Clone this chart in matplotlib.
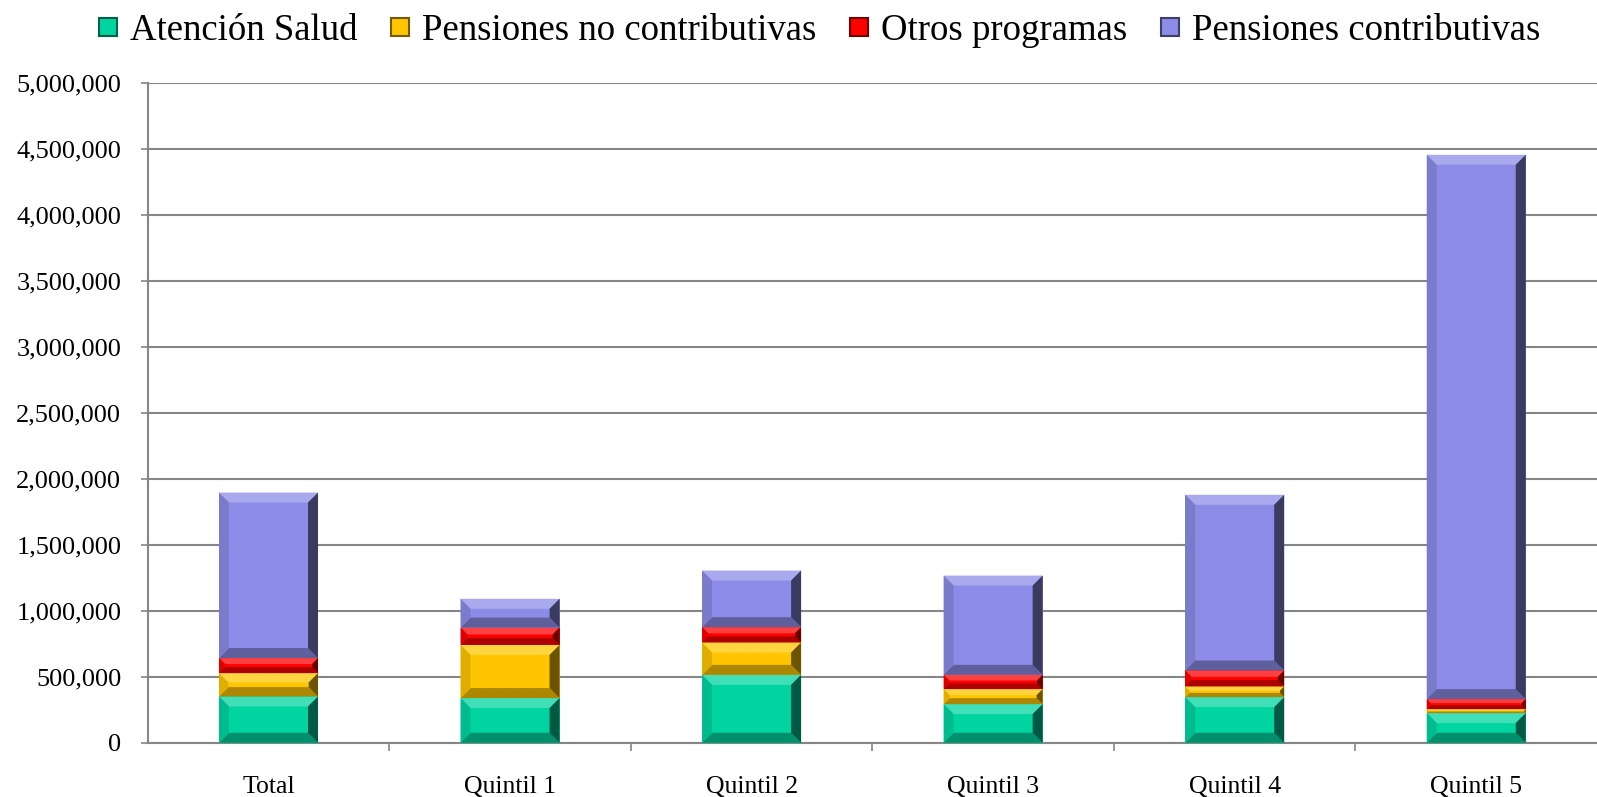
import matplotlib.pyplot as plt
import numpy as np
from matplotlib.colors import to_rgb
from matplotlib.patches import Polygon
from matplotlib.lines import Line2D
from matplotlib.ticker import FuncFormatter


CATEGORIES = ["Total", "Quintil 1", "Quintil 2", "Quintil 3", "Quintil 4", "Quintil 5"]
ATENCION_SALUD = [351000, 339000, 515000, 293000, 346000, 225000]
PENSIONES_NO_CONTRIB = [177000, 403000, 245000, 114000, 81000, 30000]
OTROS_PROGRAMAS = [114000, 131000, 116000, 108000, 121000, 76000]
PENSIONES_CONTRIB = [1254000, 218000, 429000, 752000, 1331000, 4124000]

SERIES = [
    ("Atención Salud", ATENCION_SALUD, "#00D4A0"),
    ("Pensiones no contributivas", PENSIONES_NO_CONTRIB, "#FFC600"),
    ("Otros programas", OTROS_PROGRAMAS, "#FF0000"),
    ("Pensiones contributivas", PENSIONES_CONTRIB, "#8C8CE8"),
]


def shade(color, factor):
    r, g, b = to_rgb(color)
    if factor >= 1:
        f = factor - 1
        return (r + (1 - r) * f, g + (1 - g) * f, b + (1 - b) * f)
    return (r * factor, g * factor, b * factor)


def add_bevel(ax, rect, color, size=10):
    # bisel tipo Excel sobre cada segmento de barra
    x, y = rect.get_x(), rect.get_y()
    w, h = rect.get_width(), rect.get_height()
    to_px = ax.transData
    to_data = ax.transData.inverted()
    (x0, y0), (x1, y1) = to_px.transform([(x, y), (x + w, y + h)])
    b = min(size, (y1 - y0) / 2.5, (x1 - x0) / 2.5)
    faces = [
        ([(x0, y1), (x1, y1), (x1 - b, y1 - b), (x0 + b, y1 - b)], shade(color, 1.25)),
        ([(x0, y0), (x1, y0), (x1 - b, y0 + b), (x0 + b, y0 + b)], shade(color, 0.68)),
        ([(x0, y0), (x0 + b, y0 + b), (x0 + b, y1 - b), (x0, y1)], shade(color, 0.88)),
        ([(x1, y0), (x1 - b, y0 + b), (x1 - b, y1 - b), (x1, y1)], shade(color, 0.42)),
    ]
    for pts, c in faces:
        poly = Polygon(to_data.transform(pts), closed=True, facecolor=c,
                       edgecolor="none", zorder=4)
        ax.add_patch(poly)


def main():
    plt.rcParams["font.family"] = ["Liberation Serif", "DejaVu Serif"]

    fig = plt.figure(figsize=(15.97, 7.97), dpi=100)
    ax = fig.add_axes([0.0925, 0.068, 0.9075, 0.828])

    x = np.arange(len(CATEGORIES))
    ax.set_xlim(-0.5, len(CATEGORIES) - 0.5)
    ax.set_ylim(0, 5000000)

    bottom = np.zeros(len(CATEGORIES))
    handles = []
    for label, values, color in SERIES:
        bars = ax.bar(x, values, width=0.41, bottom=bottom, color=color,
                      edgecolor="none", zorder=3)
        for rect in bars:
            add_bevel(ax, rect, color)
        bottom += np.array(values)
        handles.append(Line2D([], [], marker="s", linestyle="none",
                              markersize=13, markerfacecolor=color,
                              markeredgecolor=shade(color, 0.45),
                              markeredgewidth=1.5, label=label))

    ax.set_yticks(np.arange(0, 5000001, 500000))
    ax.yaxis.set_major_formatter(FuncFormatter(lambda v, p: f"{int(v):,}"))
    ax.grid(axis="y", color="#868686", linewidth=1.5, zorder=0)
    ax.set_axisbelow(True)

    ax.set_xticks(x)
    ax.set_xticklabels(CATEGORIES)
    ax.set_xticks(np.arange(0.5, len(CATEGORIES) - 0.5, 1), minor=True)
    ax.tick_params(axis="x", which="major", length=0, labelsize=18.5, pad=24)
    ax.tick_params(axis="x", which="minor", length=6, width=1.2, color="#868686")
    ax.tick_params(axis="y", length=5, width=1.2, color="#868686",
                   labelsize=19, pad=14)

    for side in ["top", "right"]:
        ax.spines[side].set_visible(False)
    for side in ["left", "bottom"]:
        ax.spines[side].set_color("#868686")
        ax.spines[side].set_linewidth(1.5)

    fig.legend(handles=handles, loc="upper center", bbox_to_anchor=(0.512, 1.025),
               ncol=4, frameon=False, fontsize=26.5, handletextpad=0.25,
               columnspacing=0.8, handlelength=0.7)

    fig.savefig("out.png", dpi=100)
    plt.close(fig)


if __name__ == "__main__":
    main()
